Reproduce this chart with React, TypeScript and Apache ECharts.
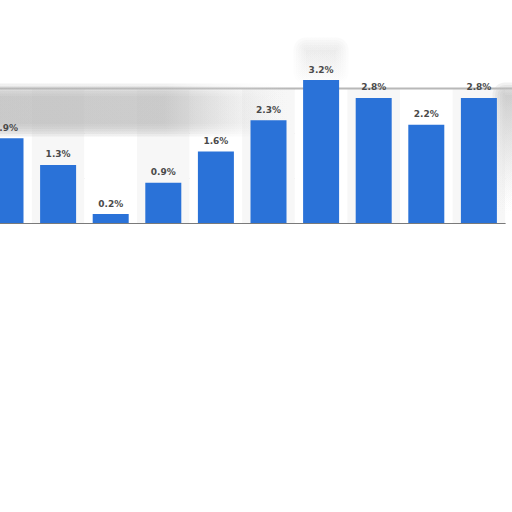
import { useEffect, useRef } from "react";
import * as echarts from "echarts";

// cropped statista-style bar chart, category names are cut off in the picture
const categories = ["2013", "2014", "2015", "2016", "2017", "2018", "2019", "2020", "2021", "2022"];
const values = [1.9, 1.3, 0.2, 0.9, 1.6, 2.3, 3.2, 2.8, 2.2, 2.8];
const yTicks = [0, 1, 2, 3];

// soft, blurred-looking grey patch made of stacked translucent rects
const softPatch = (x: number, y: number, w: number, h: number, grad: any[], vertical = false, alpha = 0.22) => {
  const layers = [];
  for (let i = 5; i >= 0; i--) {
    const pad = i * 2.5;
    layers.push({
      type: "rect",
      shape: { x: x - pad, y: y - pad, width: w + pad * 2, height: h + pad * 2, r: pad },
      style: {
        fill: new echarts.graphic.LinearGradient(0, 0, vertical ? 0 : 1, vertical ? 1 : 0, grad),
        opacity: alpha,
      },
      silent: true,
      z: 10,
    });
  }
  return layers;
};

const App = () => {
  const chartRef = useRef<HTMLDivElement>(null);

  useEffect(() => {
    if (!chartRef.current) return;
    const chart = echarts.init(chartRef.current, null, { renderer: "svg" });

    const option = {
      animation: false,
      backgroundColor: "#ffffff",
      grid: { left: -20.8, width: 526, top: 89, bottom: 289, outerBoundsMode: "none", containLabel: false },
      xAxis: {
        type: "category",
        data: categories,
        axisLabel: { show: false },
        axisTick: { show: false },
        axisLine: { lineStyle: { color: "#7a7a7a", width: 1 } },
        splitArea: { show: true, areaStyle: { color: ["#ffffff", "#f7f7f7"] } },
      },
      yAxis: {
        type: "value",
        min: yTicks[0],
        max: yTicks[yTicks.length - 1],
        interval: 1,
        axisLabel: { show: false },
        axisLine: { show: false },
        axisTick: { show: false },
        splitLine: { lineStyle: { color: "#cccccc", type: [1, 2] } },
      },
      graphic: [
        // blurred band across the top of the plot area
        {
          type: "rect",
          shape: { x: 0, y: 87.5, width: 512, height: 2 },
          style: { fill: "#b8b8b8" },
          silent: true,
          z: 10,
        },
        ...softPatch(-10, 96, 290, 28, [
          { offset: 0, color: "rgb(185,185,185)" },
          { offset: 0.6, color: "rgb(190,190,190)" },
          { offset: 1, color: "rgba(230,230,230,0)" },
        ]),
        ...softPatch(505, 95, 10, 110, [
          { offset: 0, color: "rgb(190,190,190)" },
          { offset: 1, color: "rgba(230,230,230,0)" },
        ], true),
        ...softPatch(306, 50, 30, 22, [
          { offset: 0, color: "rgb(215,215,215)" },
          { offset: 1, color: "rgba(225,225,225,0.3)" },
        ], true, 0.12),
      ],
      series: [
        {
          type: "bar",
          data: values,
          barWidth: 36,
          clip: false,
          itemStyle: { color: "#2a72d8" },
          label: {
            show: true,
            position: "top",
            distance: 6,
            formatter: (p: any) => p.value.toFixed(1) + "%",
            color: "#4a4a4a",
            fontSize: 9,
            fontWeight: "bold",
            fontFamily: "DejaVu Sans",
          },
          z: 20,
        },
      ],
    };

    chart.setOption(option);
    return () => chart.dispose();
  }, []);

  return (
    <div
      ref={chartRef}
      style={{ position: "fixed", left: 0, top: 0, width: 512, height: 512 }}
    />
  );
};

export default App;
